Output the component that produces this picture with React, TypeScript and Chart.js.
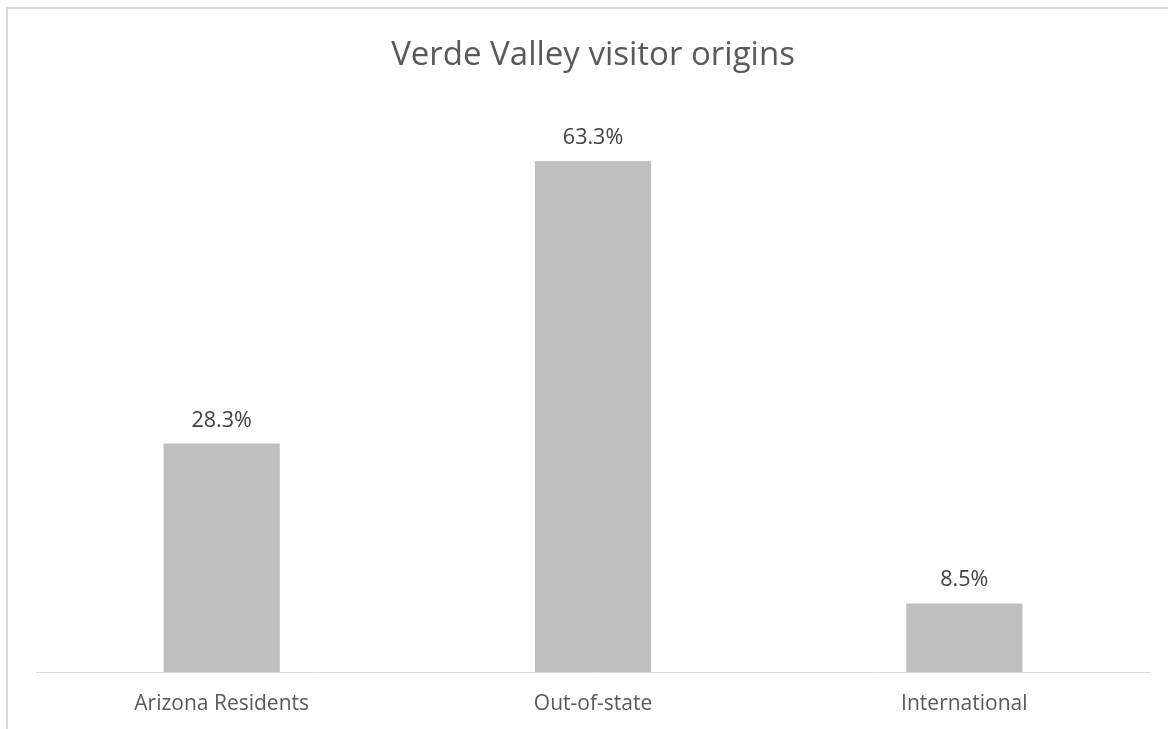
import React, { useEffect, useRef } from "react";
import { Chart, registerables } from "chart.js";

Chart.register(...registerables);

const categories = ["Arizona Residents", "Out-of-state", "International"];
const shares = [28.3, 63.3, 8.5];
const titleText = "Verde Valley visitor origins";

const FONT = "'Open Sans', Lato, sans-serif";

const dataLabels = {
  id: "dataLabels",
  afterDatasetsDraw(chart: any) {
    const ctx = chart.ctx;
    const meta = chart.getDatasetMeta(0);
    ctx.save();
    ctx.fillStyle = "#404040";
    ctx.font = `21.5px ${FONT}`;
    ctx.textAlign = "center";
    ctx.textBaseline = "alphabetic";
    meta.data.forEach((bar: any, i: number) => {
      ctx.fillText(shares[i].toFixed(1) + "%", bar.x, bar.y - 17);
    });
    ctx.restore();
  },
};

export default function App() {
  const ref = useRef<HTMLCanvasElement | null>(null);
  useEffect(() => {
    if (!ref.current) return;
    const chart = new Chart(ref.current, {
      type: "bar",
      data: {
        labels: categories,
        datasets: [
          {
            data: shares,
            backgroundColor: "#BFBFBF",
            categoryPercentage: 1,
            barPercentage: 0.313,
          },
        ],
      },
      options: {
        animation: false,
        responsive: false,
        maintainAspectRatio: false,
        layout: { padding: { left: 36, right: 18, top: 0, bottom: 0 } },
        plugins: {
          legend: { display: false },
          tooltip: { enabled: false },
          title: {
            display: true,
            text: titleText,
            color: "#595959",
            font: { family: FONT, size: 33, weight: "normal", lineHeight: 1.2 },
            padding: { top: 36, bottom: 31.4 },
          },
        },
        scales: {
          y: {
            display: false,
            min: 0,
            max: 70,
          },
          x: {
            grid: { display: false, drawTicks: false },
            border: { display: true, color: "#D9D9D9", width: 1 },
            ticks: {
              color: "#595959",
              font: { family: FONT, size: 21 },
              padding: 19,
            },
            afterFit: (s: any) => {
              s.height = 57;
            },
          },
        },
      },
      plugins: [dataLabels],
    });
    return () => chart.destroy();
  }, []);
  return (
    <div style={{ position: "absolute", left: 0, top: 0, width: 1168, height: 729, overflow: "hidden", background: "#fff" }}>
      <div
        style={{
          position: "absolute",
          left: 6,
          top: 7,
          width: 1200,
          height: 760,
          borderLeft: "2px solid #D9D9D9",
          borderTop: "2px solid #D9D9D9",
        }}
      />
      <canvas ref={ref} width={1168} height={729} style={{ position: "absolute", left: 0, top: 0 }} />
    </div>
  );
}
